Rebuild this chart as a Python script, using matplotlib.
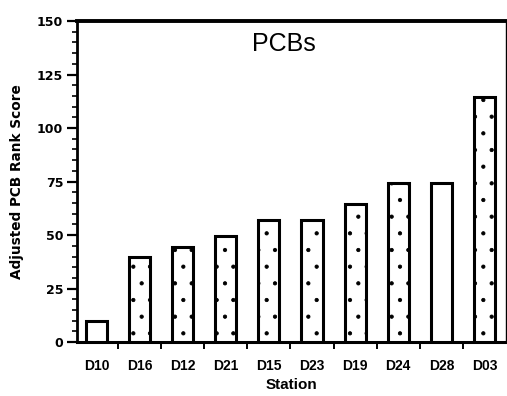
import matplotlib
matplotlib.use("Agg")
import matplotlib.pyplot as plt
from matplotlib.ticker import MultipleLocator, FixedLocator
import numpy as np

stations = ["D10", "D16", "D12", "D21", "D15", "D23", "D19", "D24", "D28", "D03"]
scores = [10, 40, 44.5, 49.5, 57, 57, 64.5, 74.5, 74.5, 114.5]
stippled = [False, True, True, True, True, True, True, True, False, True]

plt.rcParams["font.family"] = ["Liberation Sans", "DejaVu Sans"]
plt.rcParams["hatch.color"] = "#444444"
plt.rcParams["hatch.linewidth"] = 0.6

fig = plt.figure(figsize=(5.07, 3.96), dpi=100)
ax = fig.add_axes([0.152, 0.136, 0.846, 0.811])

x = np.arange(len(stations))
for xi, val, st in zip(x, scores, stippled):
    ax.bar(xi, val, width=0.49, facecolor="white", edgecolor="black",
           linewidth=2.2, hatch="." if st else None, zorder=3)

ax.set_xlim(-0.45, 9.5)
ax.set_ylim(0, 150)

ax.yaxis.set_major_locator(MultipleLocator(25))
ax.yaxis.set_minor_locator(MultipleLocator(5))
ax.tick_params(axis="y", which="major", length=7, width=1.6, direction="out",
               labelsize=9, pad=3)
ax.tick_params(axis="y", which="minor", length=3.5, width=1.2, direction="out")

ax.set_xticks(x)
ax.set_xticklabels(stations)
ax.xaxis.set_minor_locator(FixedLocator(np.arange(0.5, 9.5, 1.0)))
ax.tick_params(axis="x", which="major", length=0, labelsize=10, pad=12)
ax.tick_params(axis="x", which="minor", length=5, width=1.4, direction="out")

for lbl in ax.get_xticklabels():
    lbl.set_fontweight("bold")
for lbl in ax.get_yticklabels():
    lbl.set_fontweight("bold")
    lbl.set_family(["DejaVu Sans"])

for side, lw in (("left", 2.0), ("bottom", 2.2), ("top", 2.8), ("right", 1.0)):
    ax.spines[side].set_linewidth(lw)

ax.set_xlabel("Station", fontsize=11, fontweight="bold", labelpad=4)
ax.set_ylabel("Adjusted PCB Rank Score", fontsize=9.8, fontweight="bold",
              family=["DejaVu Sans"], labelpad=9)
ax.text(0.483, 0.928, "PCBs", transform=ax.transAxes, ha="center", va="center",
        fontsize=18)

fig.savefig("out.png", dpi=100)
